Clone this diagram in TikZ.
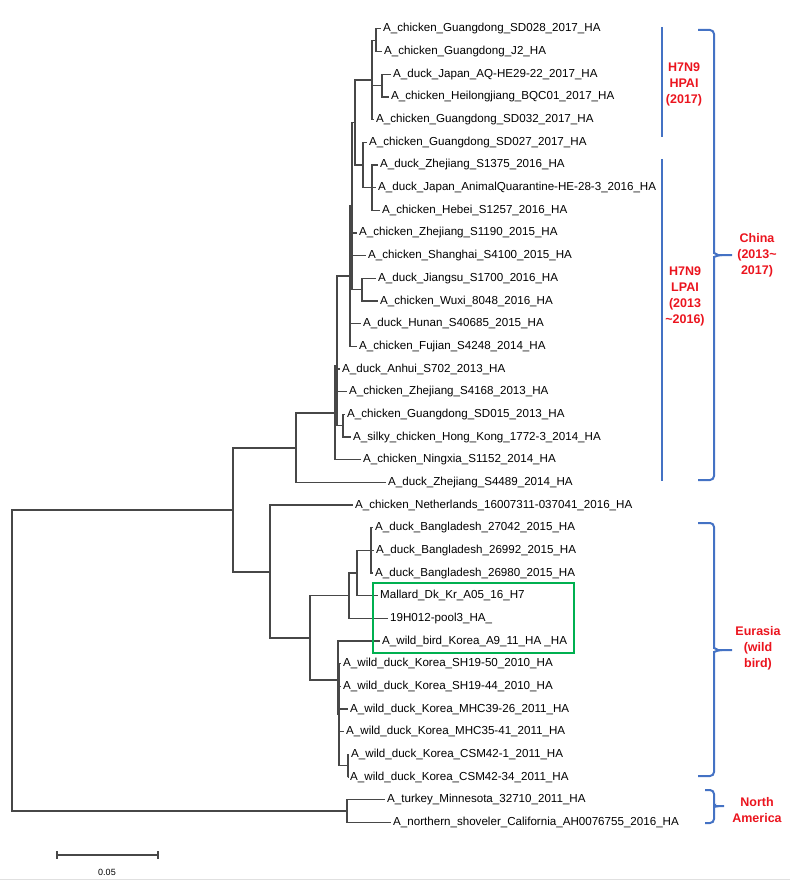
\documentclass[tikz,border=0pt]{standalone}
\usepackage{fontspec}
\setmainfont{Liberation Sans}
\usetikzlibrary{calc}

\definecolor{bracketblue}{RGB}{68,114,196}
\definecolor{cladered}{RGB}{235,20,30}
\definecolor{boxgreen}{RGB}{0,176,80}

\tikzset{
  branch/.style={line width=1.2pt, draw=black!72},
  leaf/.style={anchor=west, inner xsep=2.5pt, inner ysep=0pt, font=\fontsize{11.6}{13}\selectfont},
  clade/.style={text=cladered, font=\bfseries\fontsize{12.5}{16}\selectfont, align=center},
  cladebar/.style={draw=bracketblue, line width=2.8pt},
  cladebrace/.style={draw=bracketblue, line width=2pt, rounded corners=4pt},
}

\begin{document}
\begin{tikzpicture}[x=1pt, y=-1pt]
\useasboundingbox (0,0) rectangle (790,893);

% leaves
\node[leaf] (l1) at (380.5,28.9) {A\_chicken\_Guangdong\_SD028\_2017\_HA};
\node[leaf] (l2) at (381.5,51.6) {A\_chicken\_Guangdong\_J2\_HA};
\node[leaf] (l3) at (390.5,74.3) {A\_duck\_Japan\_AQ-HE29-22\_2017\_HA};
\node[leaf] (l4) at (388.5,97.0) {A\_chicken\_Heilongjiang\_BQC01\_2017\_HA};
\node[leaf] (l5) at (373.5,119.6) {A\_chicken\_Guangdong\_SD032\_2017\_HA};
\node[leaf] (l6) at (366.5,142.3) {A\_chicken\_Guangdong\_SD027\_2017\_HA};
\node[leaf] (l7) at (377.5,165.0) {A\_duck\_Zhejiang\_S1375\_2016\_HA};
\node[leaf] (l8) at (375.5,187.6) {A\_duck\_Japan\_AnimalQuarantine-HE-28-3\_2016\_HA};
\node[leaf] (l9) at (379.5,210.3) {A\_chicken\_Hebei\_S1257\_2016\_HA};
\node[leaf] (l10) at (356.5,233.0) {A\_chicken\_Zhejiang\_S1190\_2015\_HA};
\node[leaf] (l11) at (365.5,255.6) {A\_chicken\_Shanghai\_S4100\_2015\_HA};
\node[leaf] (l12) at (375.5,278.3) {A\_duck\_Jiangsu\_S1700\_2016\_HA};
\node[leaf] (l13) at (377.5,301.0) {A\_chicken\_Wuxi\_8048\_2016\_HA};
\node[leaf] (l14) at (360.5,323.6) {A\_duck\_Hunan\_S40685\_2015\_HA};
\node[leaf] (l15) at (356.5,346.3) {A\_chicken\_Fujian\_S4248\_2014\_HA};
\node[leaf] (l16) at (339.5,369.0) {A\_duck\_Anhui\_S702\_2013\_HA};
\node[leaf] (l17) at (346.5,391.6) {A\_chicken\_Zhejiang\_S4168\_2013\_HA};
\node[leaf] (l18) at (344.5,414.3) {A\_chicken\_Guangdong\_SD015\_2013\_HA};
\node[leaf] (l19) at (350.5,437.0) {A\_silky\_chicken\_Hong\_Kong\_1772-3\_2014\_HA};
\node[leaf] (l20) at (360.5,459.6) {A\_chicken\_Ningxia\_S1152\_2014\_HA};
\node[leaf] (l21) at (385.5,482.3) {A\_duck\_Zhejiang\_S4489\_2014\_HA};
\node[leaf] (l22) at (352.5,505.0) {A\_chicken\_Netherlands\_16007311-037041\_2016\_HA};
\node[leaf] (l23) at (372.5,527.6) {A\_duck\_Bangladesh\_27042\_2015\_HA};
\node[leaf] (l24) at (373.5,550.3) {A\_duck\_Bangladesh\_26992\_2015\_HA};
\node[leaf] (l25) at (372.5,573.0) {A\_duck\_Bangladesh\_26980\_2015\_HA};
\node[leaf] (l26) at (377.5,595.6) {Mallard\_Dk\_Kr\_A05\_16\_H7};
\node[leaf] (l27) at (387.5,618.3) {19H012-pool3\_HA\_};
\node[leaf] (l28) at (379.5,641.0) {A\_wild\_bird\_Korea\_A9\_11\_HA \_HA};
\node[leaf] (l29) at (340.5,663.6) {A\_wild\_duck\_Korea\_SH19-50\_2010\_HA};
\node[leaf] (l30) at (340.5,686.3) {A\_wild\_duck\_Korea\_SH19-44\_2010\_HA};
\node[leaf] (l31) at (347.5,709.0) {A\_wild\_duck\_Korea\_MHC39-26\_2011\_HA};
\node[leaf] (l32) at (343.5,731.6) {A\_wild\_duck\_Korea\_MHC35-41\_2011\_HA};
\node[leaf] (l33) at (348.5,754.3) {A\_wild\_duck\_Korea\_CSM42-1\_2011\_HA};
\node[leaf] (l34) at (347.5,777.0) {A\_wild\_duck\_Korea\_CSM42-34\_2011\_HA};
\node[leaf] (l35) at (384.5,799.6) {A\_turkey\_Minnesota\_32710\_2011\_HA};
\node[leaf] (l36) at (390.5,822.3) {A\_northern\_shoveler\_California\_AH0076755\_2016\_HA};

% internal nodes
\coordinate (a1) at (376,40.2);
\coordinate (a2) at (382,85.6);
\coordinate (hp) at (372,80);
\coordinate (z) at (372,187.6);
\coordinate (k) at (363,165);
\coordinate (h) at (355,122.5);
\coordinate (jw) at (362,289.6);
\coordinate (s) at (352,206);
\coordinate (r) at (350,276);
\coordinate (sd) at (343,425.6);
\coordinate (q) at (337,366);
\coordinate (p) at (335,413);
\coordinate (c) at (296,448);
\coordinate (bd) at (371,550.3);
\coordinate (n5) at (357,573);
\coordinate (n4) at (349,595.6);
\coordinate (cs) at (348,765.6);
\coordinate (n7) at (339,714.6);
\coordinate (n6) at (338,680);
\coordinate (n3) at (310,638);
\coordinate (n2) at (270,572);
\coordinate (n1) at (233,510);
\coordinate (n8) at (347,811);
\coordinate (root) at (12,660);

\foreach \p/\ch in {a1/l1,a1/l2,a2/l3,a2/l4,hp/a1,hp/a2,hp/l5,
    z/l7,z/l8,z/l9,k/l6,k/z,h/hp,h/k,jw/l12,jw/l13,
    s/h,s/l10,s/l11,s/jw,r/s,r/l14,r/l15,sd/l18,sd/l19,
    q/r,q/l16,q/l17,q/sd,p/q,p/l20,c/p,c/l21,
    bd/l23,bd/l24,bd/l25,n5/bd,n5/l26,n4/n5,n4/l27,
    cs/l33,cs/l34,n7/l29,n7/l30,n7/l31,n7/l32,n7/cs,
    n6/l28,n6/n7,n3/n4,n3/n6,n2/l22,n2/n3,n1/c,n1/n2,
    n8/l35,n8/l36,root/n1,root/n8}
  \draw[branch] (\p) |- (\ch);

% highlighted Korean strains
\draw[boxgreen, line width=2.8pt] (373,583) rectangle (574,653);

% clade bars and braces
\draw[cladebar] (662,27) -- (662,137);
\draw[cladebar] (662,159) -- (662,481);
\node[clade] (hpai) at (684,84) {H7N9\\HPAI\\(2017)};
\node[clade] (lpai) at (685,296) {H7N9\\LPAI\\(2013\\\textasciitilde2016)};

\draw[cladebrace] (698,30) -| (714,249) to[out=-90,in=180] (722,255) -- (732,255);
\draw[cladebrace] (698,480) -| (714,261) to[out=90,in=180] (722,255);
\node[clade] (china) at (757,255) {China\\(2013\textasciitilde\\2017)};

\draw[cladebrace] (698,523) -| (714,644) to[out=-90,in=180] (722,650) -- (732,650);
\draw[cladebrace] (698,776) -| (714,656) to[out=90,in=180] (722,650);
\node[clade] (eurasia) at (758,648) {Eurasia\\(wild\\bird)};

\draw[cladebrace] (705,790) -| (714,802) to[out=-90,in=180] (719,806) -- (724,806);
\draw[cladebrace] (705,823) -| (714,810) to[out=90,in=180] (719,806);
\node[clade] (namerica) at (757,810) {North\\America};

% scale bar
\draw[branch] (57,855) -- (158,855);
\draw[branch] (57,851) -- (57,859);
\draw[branch] (158,851) -- (158,859);
\node[font=\fontsize{9}{10}\selectfont] (scale) at (107,872) {0.05};

\draw[black!12, line width=1pt] (0,879) -- (790,879);
\end{tikzpicture}
\end{document}
